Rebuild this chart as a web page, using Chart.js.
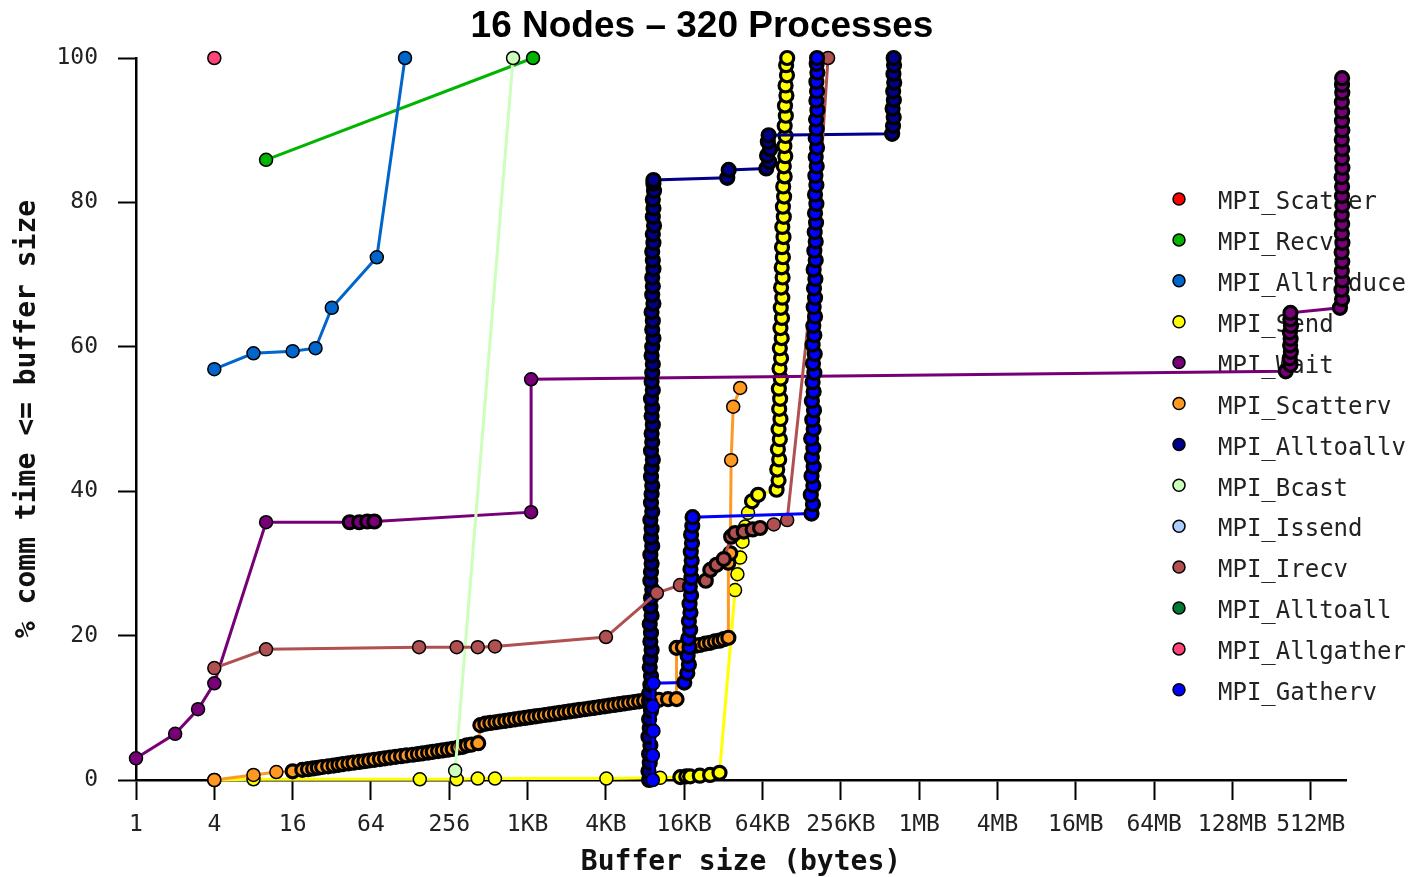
<!DOCTYPE html>
<html>
<head>
<meta charset="utf-8">
<title>16 Nodes – 320 Processes</title>
<script src="https://cdn.jsdelivr.net/npm/chart.js@4.4.1/dist/chart.umd.min.js"></script>
<style>
  html, body { margin: 0; padding: 0; background: #fff; }
  #wrap { width: 1418px; height: 877px; }
</style>
</head>
<body>
<div id="wrap"><canvas id="cdf" width="1418" height="877"></canvas></div>
<script>
// Buffer size ticks (powers of 4) and the labels printed under them
const tickBytes = [1, 4, 16, 64, 256, 1024, 4096, 16384, 65536, 262144, 1048576,
    4194304, 16777216, 67108864, 268435456, 1073741824];
const tickLabels = ['1', '4', '16', '64', '256', '1KB', '4KB', '16KB', '64KB', '256KB',
    '1MB', '4MB', '16MB', '64MB', '128MB', '512MB'];
const yTicks = [0, 20, 40, 60, 80, 100];

const chartTitle = '16 Nodes – 320 Processes';
const seriesNames = ['MPI_Scatter', 'MPI_Recv', 'MPI_Allreduce', 'MPI_Send', 'MPI_Wait',
    'MPI_Scatterv', 'MPI_Alltoallv', 'MPI_Bcast', 'MPI_Issend', 'MPI_Irecv',
    'MPI_Alltoall', 'MPI_Allgather', 'MPI_Gatherv'];
const seriesColors = ['#ff0000', '#00b400', '#0066cc', '#ffff00', '#770077',
    '#ff9922', '#000088', '#ccffbb', '#aaccff', '#b05050',
    '#007733', '#ff4477', '#0000ff'];

// [buffer size in bytes, % comm time <= buffer size]
const scatter = [];
const recv = [[10, 85.9], [1128, 100]];
const allreduce = [[4, 56.9], [8, 59.1], [16, 59.4], [24, 59.8], [32, 65.4], [71, 72.4], [117, 100]];
const send = [
    [4, 0.0], [8, 0.1], [152, 0.1], [292, 0.1], [424, 0.2], [575, 0.2], [4130, 0.2],
    [10700, 0.3], [15300, 0.4], [17000, 0.5], [18200, 0.5], [21600, 0.6], [25900, 0.7], [30600, 1.0],
    [40300, 26.3], [42000, 28.5], [44100, 30.8], [46000, 33.0], [48200, 35.1], [50700, 37.0],
    [54400, 38.6], [60600, 39.5],
    [84000, 40.2], [87000, 41.5], [85000, 43.0], [88000, 44.4], [86000, 45.8], [89000, 47.2],
    [87000, 48.6], [90000, 50.0], [88000, 51.4], [89500, 52.8], [87500, 54.2], [90500, 55.6],
    [88500, 57.0], [91000, 58.4], [89000, 59.8], [92000, 61.2], [90000, 62.6], [92500, 64.0],
    [90500, 65.4], [93000, 66.8], [91000, 68.2], [93500, 69.6], [92000, 71.0], [94000, 72.4],
    [92500, 73.8], [95000, 75.2], [93000, 76.6], [95500, 78.0], [94000, 79.4], [96000, 80.8],
    [94500, 82.2], [97000, 83.6], [95500, 85.0], [98000, 86.4], [96500, 87.8], [98500, 89.2],
    [97000, 90.6], [99000, 92.0], [97500, 93.4], [100000, 94.8], [98500, 96.2], [101000, 97.6],
    [99500, 99.0], [101400, 100]
];
const wait = [
    [1, 3.0], [2, 6.4], [3, 9.8], [4, 13.4], [10, 35.7], [44, 35.7], [52, 35.7], [60, 35.8],
    [68, 35.8], [1090, 37.1], [1090, 55.5], [690000000, 56.6],
    [750000000, 57.5], [740000000, 58.4], [755000000, 59.3], [745000000, 60.2], [752000000, 61.1],
    [742000000, 62.0], [756000000, 62.9], [748000000, 63.8], [750000000, 64.7],
    [1800000000, 65.4], [1870000000, 66.6], [1850000000, 67.9], [1880000000, 69.2],
    [1860000000, 70.5], [1875000000, 71.8], [1855000000, 73.1], [1880000000, 74.4],
    [1862000000, 75.7], [1872000000, 77.0], [1858000000, 78.3], [1878000000, 79.6],
    [1866000000, 80.9], [1870000000, 82.2], [1856000000, 83.5], [1880000000, 84.8],
    [1864000000, 86.1], [1874000000, 87.4], [1860000000, 88.7], [1878000000, 90.0],
    [1866000000, 91.3], [1872000000, 92.6], [1862000000, 93.9], [1876000000, 95.2],
    [1868000000, 96.3], [1870000000, 97.2]
];
const scatterv = [
    [4, 0.0], [8, 0.7], [12, 1.1], [16, 1.2], [19, 1.4], [21, 1.5], [23, 1.6], [25, 1.7],
    [27, 1.8], [30, 1.9], [33, 2.0], [36, 2.1], [39, 2.2], [43, 2.3], [47, 2.4], [52, 2.5],
    [57, 2.6], [62, 2.7], [68, 2.8], [75, 2.9], [82, 3.0], [90, 3.1], [99, 3.2], [109, 3.3],
    [120, 3.4], [134, 3.5], [147, 3.6], [160, 3.7], [176, 3.8], [191, 3.9], [210, 4.0],
    [228, 4.1], [250, 4.2], [272, 4.3], [300, 4.5], [324, 4.6], [350, 4.8], [380, 4.9], [427, 5.1],
    [444, 7.6], [485, 7.8], [530, 7.9], [580, 8.0], [630, 8.1], [690, 8.2], [752, 8.3], [820, 8.4],
    [896, 8.5], [980, 8.6], [1068, 8.7], [1170, 8.8], [1273, 8.9], [1390, 9.0], [1517, 9.1],
    [1660, 9.2], [1808, 9.3], [1980, 9.4], [2155, 9.5], [2360, 9.6], [2570, 9.7], [2810, 9.8],
    [3060, 9.9], [3350, 10.0], [3650, 10.1], [4000, 10.2], [4350, 10.3], [4760, 10.4], [5190, 10.5],
    [5670, 10.6], [6180, 10.7], [6750, 10.8], [7370, 10.9], [8050, 11.0], [8780, 11.0],
    [9600, 11.1], [10460, 11.1], [12300, 11.2], [14300, 11.2],
    [14300, 18.3], [16000, 18.4], [18200, 18.5], [20000, 18.6], [21600, 18.7], [23800, 18.9],
    [25900, 19.0], [28200, 19.2], [30600, 19.3], [33000, 19.5], [35800, 19.7],
    [35800, 30.1], [37000, 31.4], [37600, 44.3], [39000, 51.7], [44100, 54.3]
];
const alltoallv = [
    [8800, 0.0], [8700, 1.2], [8900, 2.4], [8800, 3.6], [9000, 4.8], [8700, 6.0], [8900, 7.2],
    [8800, 8.4], [9100, 9.6], [8900, 10.8], [8800, 12.0], [9000, 13.2], [9100, 14.4], [8900, 15.6],
    [9000, 16.8], [9200, 18.0], [9000, 19.2], [9100, 20.4], [8900, 21.6], [9200, 22.8], [9000, 24.0],
    [9100, 25.2], [9300, 26.4], [9000, 27.6], [9100, 28.8], [9200, 30.0], [9000, 31.2], [9300, 32.4],
    [9100, 33.6], [9200, 34.8], [9000, 36.0], [9300, 37.2], [9100, 38.4], [9200, 39.6], [9300, 40.8],
    [9100, 42.0], [9200, 43.2], [9400, 44.4], [9100, 45.6], [9300, 46.8], [9200, 48.0], [9400, 49.2],
    [9200, 50.4], [9300, 51.6], [9100, 52.8], [9400, 54.0], [9200, 55.2], [9300, 56.4], [9400, 57.6],
    [9200, 58.8], [9300, 60.0], [9500, 61.2], [9300, 62.4], [9400, 63.6], [9200, 64.8], [9500, 66.0],
    [9300, 67.2], [9400, 68.4], [9300, 69.6], [9500, 70.8], [9400, 72.0], [9300, 73.2], [9500, 74.4],
    [9400, 75.6], [9600, 76.8], [9400, 78.0], [9500, 79.2], [9400, 80.4], [9600, 81.6], [9500, 82.6],
    [9500, 83.1],
    [35100, 83.4], [36000, 84.5],
    [70000, 84.7], [74000, 85.6], [71000, 86.5], [75000, 87.4], [72000, 88.4], [73000, 89.3],
    [650000, 89.5], [660000, 90.6], [668000, 91.8], [655000, 93.0], [670000, 94.2], [662000, 95.4],
    [674000, 96.6], [665000, 97.8], [672000, 99.0], [668000, 100]
];
const bcast = [[284, 1.3], [792, 100]];
const issend = [];
const irecv = [
    [4, 15.5], [10, 18.1], [150, 18.4], [292, 18.4], [424, 18.4], [575, 18.5], [4100, 19.8],
    [10100, 25.9], [15200, 27.0], [24000, 27.6], [26000, 29.1], [29000, 29.8], [33000, 30.6],
    [37600, 33.7], [40300, 34.2], [47000, 34.4], [55000, 34.7], [62800, 34.9], [80000, 35.4],
    [101400, 36.0], [163000, 71.0], [209000, 100]
];
const alltoall = [];
const allgather = [[4, 100]];
const gatherv = [
    [9400, 0.0], [9400, 3.4], [9500, 6.8], [9400, 10.2], [9500, 13.4], [16400, 13.5],
    [17300, 14.8], [17800, 16.0], [17400, 17.2], [18000, 18.4], [17600, 19.6], [18200, 20.8],
    [17800, 22.0], [18300, 23.2], [18000, 24.4], [18500, 25.6], [18100, 26.8], [18600, 28.0],
    [18300, 29.2], [18700, 30.4], [18400, 31.6], [18800, 32.8], [18500, 34.0], [18900, 35.2],
    [19000, 36.4],
    [156000, 36.9], [160000, 38.2], [154000, 39.5], [161000, 40.8], [156000, 42.1], [162000, 43.4],
    [157000, 44.7], [161000, 46.0], [155000, 47.3], [162000, 48.6], [158000, 49.9], [163000, 51.2],
    [157000, 52.5], [162000, 53.8], [159000, 55.1], [164000, 56.4], [160000, 57.7], [165000, 59.0],
    [159000, 60.3], [164000, 61.6], [161000, 62.9], [166000, 64.2], [162000, 65.5], [166000, 66.8],
    [163000, 68.1], [167000, 69.4], [162000, 70.7], [168000, 72.0], [164000, 73.3], [168000, 74.6],
    [165000, 75.9], [169000, 77.2], [166000, 78.5], [170000, 79.8], [166000, 81.1], [170000, 82.4],
    [167000, 83.7], [171000, 85.0], [168000, 86.3], [172000, 87.6], [168000, 88.9], [171000, 90.2],
    [169000, 91.5], [173000, 92.8], [170000, 94.1], [172000, 95.4], [170000, 96.7], [173000, 98.0],
    [171000, 99.2], [172000, 100]
];

const seriesData = [scatter, recv, allreduce, send, wait, scatterv, alltoallv, bcast,
    issend, irecv, alltoall, allgather, gatherv];

// title and legend are painted by hand: the title sits off-centre of the plot,
// and the legend lies inside the plot, under the data
const sideLegend = {
    id: 'sideLegend',
    beforeDatasetsDraw(chart) {
        const ctx = chart.ctx;
        ctx.save();
        ctx.font = '24px "DejaVu Sans Mono"';
        ctx.textBaseline = 'middle';
        ctx.textAlign = 'left';
        chart.data.datasets.forEach((ds, i) => {
            const y = 199 + i * 40.9;
            ctx.beginPath();
            ctx.arc(1179, y, 6, 0, Math.PI * 2);
            ctx.fillStyle = ds.borderColor;
            ctx.fill();
            ctx.lineWidth = 1.5;
            ctx.strokeStyle = '#000';
            ctx.stroke();
            ctx.fillStyle = '#222';
            ctx.fillText(ds.label, 1218, y + 4);
        });
        ctx.restore();
    },
    afterDraw(chart) {
        const ctx = chart.ctx;
        ctx.save();
        ctx.font = 'bold 37px "Liberation Sans", Arial, sans-serif';
        ctx.textAlign = 'center';
        ctx.textBaseline = 'alphabetic';
        ctx.fillStyle = '#000';
        ctx.fillText(chartTitle, 702, 37);
        ctx.restore();
    }
};

// markers packed tightly together get a heavier outline, so runs of points
// turn dark like in the original plot
function markerOutline(c) {
    const pts = c.dataset.data;
    const i = c.dataIndex;
    const sx = c.chart.scales.x, sy = c.chart.scales.y;
    if (!sx || !sy || !pts[i]) return 1.5;
    const px = (p) => [sx.getPixelForValue(p.x), sy.getPixelForValue(p.y)];
    const a = px(pts[i]);
    for (const j of [i - 1, i + 1]) {
        if (j < 0 || j >= pts.length) continue;
        const b = px(pts[j]);
        if (Math.hypot(a[0] - b[0], a[1] - b[1]) < 12) return 3.2;
    }
    return 1.5;
}

const datasets = seriesNames.map((name, i) => ({
    label: name,
    data: seriesData[i].map(p => ({ x: p[0], y: p[1] })),
    borderColor: seriesColors[i],
    backgroundColor: seriesColors[i],
    borderWidth: 3,
    pointRadius: 6.5,
    pointBorderWidth: markerOutline,
    pointBorderColor: '#000',
    pointBackgroundColor: seriesColors[i],
    tension: 0,
    clip: false,
    order: -i // later series on top
}));

const ctx = document.getElementById('cdf').getContext('2d');
new Chart(ctx, {
    type: 'line',
    data: { datasets: datasets },
    options: {
        responsive: false,
        animation: false,
        events: [],
        layout: { padding: { left: 0, right: 72, top: 58, bottom: 0 } },
        plugins: {
            legend: { display: false },
            tooltip: { enabled: false },
            title: { display: false }
        },
        scales: {
            x: {
                type: 'logarithmic',
                min: 1,
                max: Math.pow(2, 30.9),
                bounds: 'data',
                afterBuildTicks: (scale) => {
                    scale.ticks = tickBytes.map(v => ({ value: v }));
                },
                afterFit: (scale) => { scale.height = 97; },
                grid: {
                    drawOnChartArea: false,
                    drawTicks: true,
                    tickLength: 20,
                    tickWidth: 2,
                    color: '#000'
                },
                border: { display: true, color: '#000', width: 2.5 },
                ticks: {
                    autoSkip: false,
                    maxRotation: 0,
                    minRotation: 0,
                    padding: 11,
                    color: '#222',
                    font: { family: '"DejaVu Sans Mono", monospace', size: 23 },
                    callback: (v, i) => tickLabels[i]
                },
                title: {
                    display: true,
                    text: 'Buffer size (bytes)',
                    color: '#111',
                    font: { family: '"DejaVu Sans Mono", monospace', size: 28, weight: 'bold' },
                    padding: { top: 0, bottom: -3 }
                }
            },
            y: {
                type: 'linear',
                min: 0,
                max: 100,
                afterBuildTicks: (scale) => {
                    scale.ticks = yTicks.map(v => ({ value: v }));
                },
                afterFit: (scale) => { scale.width = 136; },
                grid: {
                    drawOnChartArea: false,
                    drawTicks: true,
                    tickLength: 18,
                    tickWidth: 2,
                    color: '#000'
                },
                border: { display: true, color: '#000', width: 2.5 },
                ticks: {
                    padding: 20,
                    color: '#222',
                    font: { family: '"DejaVu Sans Mono", monospace', size: 23 }
                },
                title: {
                    display: true,
                    text: '% comm time <= buffer size',
                    color: '#111',
                    font: { family: '"DejaVu Sans Mono", monospace', size: 28, weight: 'bold' },
                    padding: { top: 11, bottom: 0 }
                }
            }
        }
    },
    plugins: [sideLegend]
});
</script>
</body>
</html>
